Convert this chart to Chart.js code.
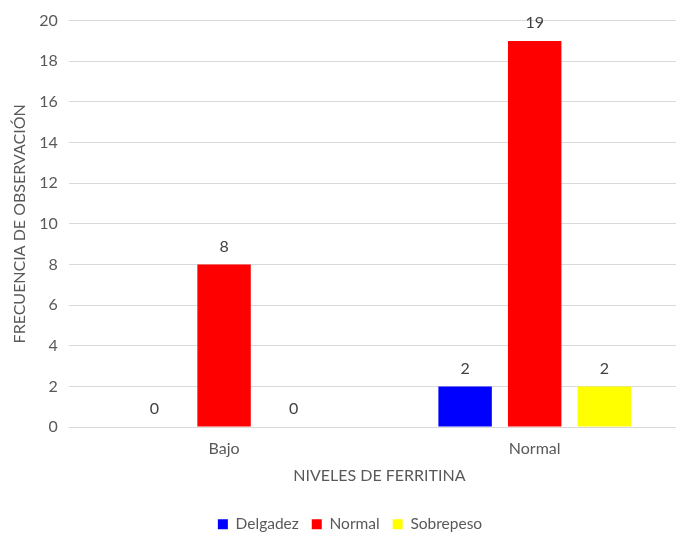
<!DOCTYPE html>
<html>
<head>
<meta charset="utf-8">
<script src="https://cdn.jsdelivr.net/npm/chart.js@4"></script>
<style>
  html, body { margin: 0; padding: 0; background: #fff; overflow: hidden; }
  #wrap { width: 690px; height: 534px; }
</style>
</head>
<body>
<div id="wrap"><canvas id="grafico"></canvas></div>
<script>
const niveles = ['Bajo', 'Normal'];
const delgadez = [0, 2];
const normal = [8, 19];
const sobrepeso = [0, 2];
const ticksY = [0, 2, 4, 6, 8, 10, 12, 14, 16, 18, 20];

const fuente = 'Lato, "Open Sans", sans-serif';

// escribe el valor encima de cada barra
const etiquetas = {
    id: 'etiquetas',
    afterDatasetsDraw(chart) {
        const ctx = chart.ctx;
        ctx.save();
        ctx.font = '16px ' + fuente;
        ctx.fillStyle = '#404040';
        ctx.textAlign = 'center';
        ctx.textBaseline = 'middle';
        chart.data.datasets.forEach((ds, i) => {
            chart.getDatasetMeta(i).data.forEach((bar, j) => {
                ctx.fillText(ds.data[j], bar.x, bar.y - 18);
            });
        });
        ctx.restore();
    }
};

const ctx = document.getElementById('grafico').getContext('2d');
new Chart(ctx, {
    type: 'bar',
    data: {
        labels: niveles,
        datasets: [
            { label: 'Delgadez', data: delgadez, backgroundColor: '#0000ff' },
            { label: 'Normal', data: normal, backgroundColor: '#ff0000' },
            { label: 'Sobrepeso', data: sobrepeso, backgroundColor: '#ffff00' }
        ]
    },
    options: {
        responsive: true,
        maintainAspectRatio: false,
        animation: false,
        layout: { padding: { left: 10, top: 10, right: 0, bottom: -8 } },
        datasets: { bar: { categoryPercentage: 0.672, barPercentage: 0.768 } },
        plugins: {
            tooltip: { enabled: false },
            legend: {
                position: 'bottom',
                labels: {
                    font: { family: fuente, size: 15.5 },
                    color: '#595959',
                    boxWidth: 10,
                    boxHeight: 10,
                    padding: 13
                }
            }
        },
        scales: {
            x: {
                grid: { display: false },
                border: { display: false },
                ticks: { font: { family: fuente, size: 16 }, color: '#595959', padding: 4 },
                title: {
                    display: true,
                    text: 'NIVELES DE FERRITINA',
                    font: { family: fuente, size: 16 },
                    color: '#595959',
                    padding: { top: 4, bottom: 18 }
                }
            },
            y: {
                min: 0,
                max: 20,
                afterBuildTicks(scale) {
                    scale.ticks = ticksY.map(v => ({ value: v }));
                },
                afterFit(scale) {
                    scale.width -= 1;
                },
                grid: { color: '#d9d9d9', lineWidth: 1, drawTicks: false },
                border: { display: false },
                ticks: { font: { family: fuente, size: 16 }, color: '#595959', padding: 11 },
                title: {
                    display: true,
                    text: 'FRECUENCIA DE OBSERVACIÓN',
                    font: { family: fuente, size: 16 },
                    color: '#595959',
                    padding: { top: 0, bottom: 0 }
                }
            }
        }
    },
    plugins: [etiquetas]
});
</script>
</body>
</html>
